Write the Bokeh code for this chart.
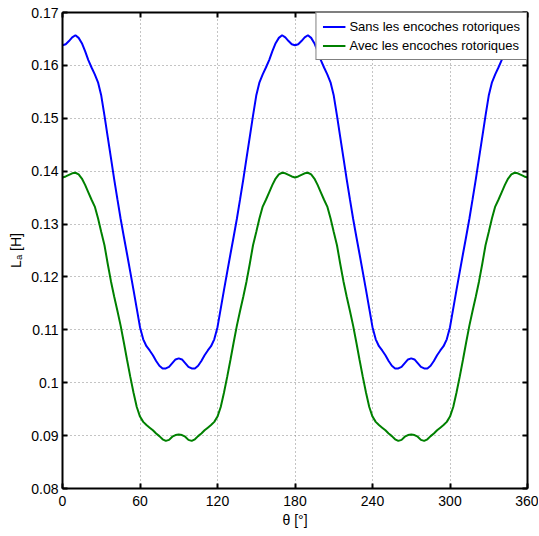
from bokeh.plotting import figure
from bokeh.models import (LinearAxis, FixedTicker, CustomJSTickFormatter, Range1d,
                          Legend, LegendItem)
from bokeh.embed import file_html
from bokeh.resources import INLINE

# ---- data ----
theta = [i * 2.5 for i in range(145)]  # 0 .. 360 deg

sans = [
    # 0 .. 90
    0.1638, 0.1640, 0.1646, 0.1653, 0.1657, 0.1652, 0.1642, 0.1627, 0.1610, 0.1596,
    0.1583, 0.1568, 0.1543, 0.1505, 0.1465, 0.1425, 0.1385, 0.1347, 0.1310, 0.1276,
    0.1243, 0.1209, 0.1175, 0.1140, 0.1105, 0.1082, 0.1069, 0.1061, 0.1052, 0.1041,
    0.1032, 0.1027, 0.1027, 0.1030, 0.1037, 0.1044, 0.1046,
    # 92.5 .. 180
    0.1044, 0.1037, 0.1030, 0.1027, 0.1027, 0.1032, 0.1041, 0.1052, 0.1061, 0.1069,
    0.1082, 0.1105, 0.1140, 0.1175, 0.1209, 0.1243, 0.1276, 0.1310, 0.1347, 0.1385,
    0.1425, 0.1465, 0.1505, 0.1543, 0.1568, 0.1583, 0.1596, 0.1610, 0.1627, 0.1642,
    0.1652, 0.1657, 0.1653, 0.1646, 0.1640, 0.1638,
    # 182.5 .. 270
    0.1640, 0.1646, 0.1653, 0.1657, 0.1652, 0.1642, 0.1627, 0.1610, 0.1596,
    0.1583, 0.1568, 0.1543, 0.1505, 0.1465, 0.1425, 0.1385, 0.1347, 0.1310, 0.1276,
    0.1243, 0.1209, 0.1175, 0.1140, 0.1105, 0.1082, 0.1069, 0.1061, 0.1052, 0.1041,
    0.1032, 0.1027, 0.1027, 0.1030, 0.1037, 0.1044, 0.1046,
    # 272.5 .. 360
    0.1044, 0.1037, 0.1030, 0.1027, 0.1027, 0.1032, 0.1041, 0.1052, 0.1061, 0.1069,
    0.1082, 0.1105, 0.1140, 0.1175, 0.1209, 0.1243, 0.1276, 0.1310, 0.1347, 0.1385,
    0.1425, 0.1465, 0.1505, 0.1543, 0.1568, 0.1583, 0.1596, 0.1610, 0.1627, 0.1642,
    0.1652, 0.1657, 0.1653, 0.1646, 0.1640, 0.1638,
]

avec = [
    # 0 .. 90
    0.1388, 0.1390, 0.1393, 0.1396, 0.1397, 0.1394, 0.1386, 0.1374, 0.1360, 0.1346,
    0.1333, 0.1311, 0.1285, 0.1260, 0.1225, 0.1192, 0.1163, 0.1136, 0.1108, 0.1076,
    0.1043, 0.1011, 0.0981, 0.0954, 0.0936, 0.0926, 0.0920, 0.0915, 0.0910, 0.0904,
    0.0899, 0.0893, 0.0890, 0.0892, 0.0898, 0.0901, 0.0902,
    # 92.5 .. 180
    0.0901, 0.0898, 0.0892, 0.0890, 0.0893, 0.0899, 0.0904, 0.0910, 0.0915, 0.0920,
    0.0926, 0.0936, 0.0954, 0.0981, 0.1011, 0.1043, 0.1076, 0.1108, 0.1136, 0.1163,
    0.1192, 0.1225, 0.1260, 0.1285, 0.1311, 0.1333, 0.1346, 0.1360, 0.1374, 0.1386,
    0.1394, 0.1397, 0.1396, 0.1393, 0.1390, 0.1388,
    # 182.5 .. 270
    0.1390, 0.1393, 0.1396, 0.1397, 0.1394, 0.1386, 0.1374, 0.1360, 0.1346,
    0.1333, 0.1311, 0.1285, 0.1260, 0.1225, 0.1192, 0.1163, 0.1136, 0.1108, 0.1076,
    0.1043, 0.1011, 0.0981, 0.0954, 0.0936, 0.0926, 0.0920, 0.0915, 0.0910, 0.0904,
    0.0899, 0.0893, 0.0890, 0.0892, 0.0898, 0.0901, 0.0902,
    # 272.5 .. 360
    0.0901, 0.0898, 0.0892, 0.0890, 0.0893, 0.0899, 0.0904, 0.0910, 0.0915, 0.0920,
    0.0926, 0.0936, 0.0954, 0.0981, 0.1011, 0.1043, 0.1076, 0.1108, 0.1136, 0.1163,
    0.1192, 0.1225, 0.1260, 0.1285, 0.1311, 0.1333, 0.1346, 0.1360, 0.1374, 0.1386,
    0.1394, 0.1397, 0.1396, 0.1393, 0.1390, 0.1388,
]

x_ticks = [0, 60, 120, 180, 240, 300, 360]
y_ticks = [0.08, 0.09, 0.10, 0.11, 0.12, 0.13, 0.14, 0.15, 0.16, 0.17]
series_names = ["Sans les encoches rotoriques", "Avec les encoches rotoriques"]
series_colors = ["#0000ff", "#008000"]
x_label = "θ [°]"
y_label = "Lₐ [H]"

FONT = "Liberation Sans, Arial, sans-serif"
FS = "14px"
LFS = "13px"

p = figure(width=538, height=530,
           x_range=Range1d(0, 360), y_range=Range1d(0.08, 0.17),
           output_backend="svg", toolbar_location=None,
           min_border_left=62, min_border_right=11,
           min_border_top=12, min_border_bottom=39,
           background_fill_color="white", border_fill_color="white")
p.outline_line_color = "black"
p.outline_line_width = 1

yfmt = CustomJSTickFormatter(code="return String(Math.round(tick*100)/100);")
empty = CustomJSTickFormatter(code="return '';")

def style_axis(ax):
    ax.axis_line_color = "black"
    ax.axis_line_width = 2
    ax.major_tick_line_color = "black"
    ax.major_tick_line_width = 2
    ax.major_tick_in = 5
    ax.major_tick_out = 0
    ax.minor_tick_line_color = None
    ax.major_label_text_font = FONT
    ax.major_label_text_font_size = FS
    ax.major_label_text_color = "black"
    ax.axis_label_text_font = FONT
    ax.axis_label_text_font_size = FS
    ax.axis_label_text_font_style = "normal"
    ax.axis_label_text_color = "black"

xax = p.xaxis[0]
yax = p.yaxis[0]
xax.ticker = FixedTicker(ticks=x_ticks)
yax.ticker = FixedTicker(ticks=y_ticks)
yax.formatter = yfmt
style_axis(xax)
style_axis(yax)
xax.major_label_standoff = 7
yax.major_label_standoff = 4
xax.axis_label = x_label
yax.axis_label = y_label
xax.axis_label_standoff = 3
yax.axis_label_standoff = 4

top = LinearAxis(ticker=FixedTicker(ticks=x_ticks), formatter=empty)
right = LinearAxis(ticker=FixedTicker(ticks=y_ticks), formatter=empty)
for ax in (top, right):
    style_axis(ax)
    ax.major_label_standoff = 0
p.add_layout(top, "above")
p.add_layout(right, "right")

p.xgrid.ticker = FixedTicker(ticks=x_ticks)
p.ygrid.ticker = FixedTicker(ticks=y_ticks)
p.grid.grid_line_color = "#888888"
p.grid.grid_line_dash = "1 3"
p.grid.grid_line_width = 1

r1 = p.line(theta, sans, line_color=series_colors[0], line_width=2)
r2 = p.line(theta, avec, line_color=series_colors[1], line_width=2)

legend = Legend(items=[LegendItem(label=series_names[0], renderers=[r1]),
                       LegendItem(label=series_names[1], renderers=[r2])],
                location="top_right")
legend.margin = 0
legend.padding = 6
legend.spacing = 4
legend.glyph_width = 23
legend.glyph_height = 15
legend.label_height = 15
legend.label_standoff = 4
legend.label_text_font = FONT
legend.label_text_font_size = LFS
legend.label_text_color = "black"
legend.border_line_color = "black"
legend.border_line_width = 1.5
legend.background_fill_color = "white"
legend.background_fill_alpha = 1
p.add_layout(legend)

open("out.html", "w").write(file_html(p, INLINE))
